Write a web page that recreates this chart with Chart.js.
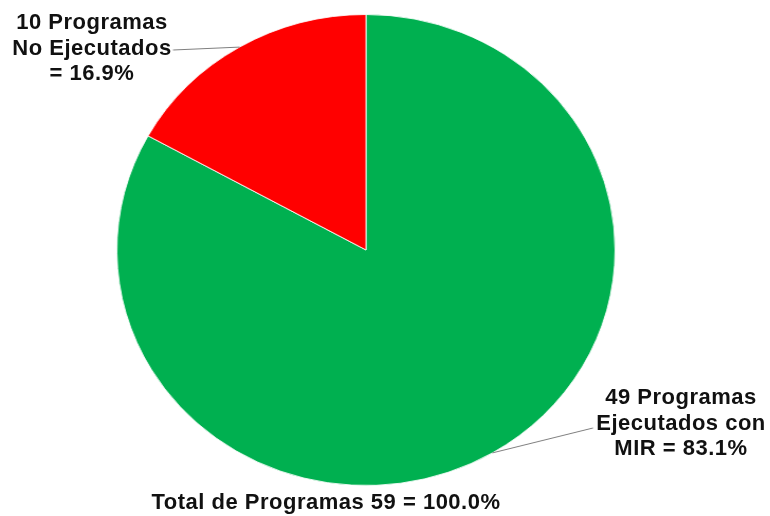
<!DOCTYPE html>
<html>
<head>
<meta charset="utf-8">
<script src="https://cdn.jsdelivr.net/npm/chart.js@4.4.0/dist/chart.umd.min.js"></script>
<style>
  html, body { margin: 0; padding: 0; background: #fff; }
  #page { position: relative; width: 770px; height: 516px; overflow: hidden; }
  #pie { position: absolute; left: 0; top: 0; transform-origin: 0 0; }
  .lbl { position: absolute; font-family: "Liberation Sans", Arial, sans-serif; font-weight: bold;
         font-size: 22px; letter-spacing: 0.5px; line-height: 25.5px; color: #111; text-align: center; white-space: nowrap; }
</style>
</head>
<body>
<div id="page">
  <canvas id="pie" width="728" height="516"></canvas>
  <div class="lbl" id="lblRed" style="left:-8px; top:9px; width:200px;"></div>
  <div class="lbl" id="lblGreen" style="left:581px; top:384px; width:200px;"></div>
  <div class="lbl" id="lblTotal" style="left:126px; top:489px; width:400px;"></div>
</div>
<script>
// data
const categories = ['Programas Ejecutados con MIR', 'Programas No Ejecutados']
const values = [49, 10]
const colors = ['#00B050', '#FF0000']
const labelLines = [
  ['49 Programas', 'Ejecutados con', 'MIR = 83.1%'],
  ['10 Programas', 'No Ejecutados', '= 16.9%']
]
const totalLabel = 'Total de Programas 59 = 100.0%'

// pie is a bit wider than tall in the picture, so stretch the canvas
const SX = 770 / 728

document.getElementById('pie').style.transform = 'scaleX(' + SX + ')'
document.getElementById('lblGreen').innerHTML = labelLines[0].join('<br>')
document.getElementById('lblRed').innerHTML = labelLines[1].join('<br>')
document.getElementById('lblTotal').textContent = totalLabel

// where the leader lines end (page coords)
const anchors = [[593, 428], [173, 50]]

const leaders = {
  id: 'leaders',
  afterDatasetsDraw(chart) {
    const ctx = chart.ctx
    const arcs = chart.getDatasetMeta(0).data
    ctx.save()
    ctx.strokeStyle = '#7f7f7f'
    ctx.lineWidth = 1
    arcs.forEach((arc, i) => {
      const p = arc.getProps(['x', 'y', 'startAngle', 'endAngle', 'outerRadius'], true)
      const mid = (p.startAngle + p.endAngle) / 2
      const x0 = p.x + Math.cos(mid) * p.outerRadius
      const y0 = p.y + Math.sin(mid) * p.outerRadius
      ctx.beginPath()
      ctx.moveTo(x0, y0)
      ctx.lineTo(anchors[i][0] / SX, anchors[i][1])
      ctx.stroke()
    })
    ctx.restore()
  }
}

new Chart(document.getElementById('pie'), {
  type: 'pie',
  data: {
    labels: categories,
    datasets: [{
      data: values,
      backgroundColor: colors,
      borderColor: 'rgba(255,255,255,0.85)',
      borderWidth: 1,
      hoverOffset: 0
    }]
  },
  options: {
    responsive: false,
    animation: false,
    layout: { padding: { left: 110, right: 146, top: 14, bottom: 30 } },
    plugins: { legend: { display: false }, tooltip: { enabled: false } }
  },
  plugins: [leaders]
})
</script>
</body>
</html>
